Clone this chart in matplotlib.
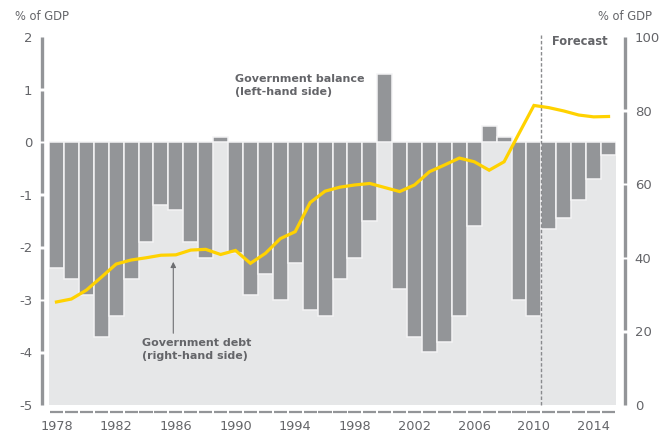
import numpy as np
import matplotlib
matplotlib.use('Agg')
import matplotlib.pyplot as plt
import matplotlib.transforms as mtransforms

# Government balance and debt, % of GDP
years = list(range(1978, 2016))
balance = [-2.4, -2.6, -2.9, -3.7, -3.3, -2.6, -1.9, -1.2, -1.3, -1.9,
           -2.2, 0.1, -2.1, -2.9, -2.5, -3.0, -2.3, -3.2, -3.3, -2.6,
           -2.2, -1.5, 1.3, -2.8, -3.7, -4.0, -3.8, -3.3, -1.6, 0.3,
           0.1, -3.0, -3.3, -1.65, -1.45, -1.1, -0.7, -0.25]
debt = [28.0, 28.8, 31.2, 34.7, 38.3, 39.4, 40.0, 40.7, 40.8, 42.1,
        42.3, 40.9, 42.0, 38.5, 41.2, 45.2, 47.1, 55.0, 58.1, 59.2,
        59.8, 60.2, 59.1, 58.0, 59.8, 63.4, 65.2, 67.1, 66.1, 63.8,
        66.1, 73.8, 81.4, 80.8, 79.9, 78.8, 78.3, 78.4]
year_labels = list(range(1978, 2016, 4))
left_ticks = [2, 1, 0, -1, -2, -3, -4, -5]
right_ticks = [100, 80, 60, 40, 20, 0]
forecast_start = 2010.5

BAR = '#939598'
BG = '#E6E7E8'
TXT = '#646569'
YELLOW = '#FFD200'

plt.rcParams['font.family'] = ['DejaVu Sans']

fig = plt.figure(figsize=(6.7, 4.34), dpi=100)
ax = fig.add_axes([49 / 670, 29 / 434, 567 / 670, 368 / 434])
ax.set_xlim(years[0] - 0.5, years[-1] + 0.5)
ax.set_ylim(-5, 2)

# shaded area below zero
ax.axhspan(-5, 0, color=BG, zorder=0, lw=0)
ax.bar(years, balance, width=1.0, color=BAR, edgecolor='#f4f4f5',
       linewidth=1.1, zorder=2)

for s in ax.spines.values():
    s.set_visible(False)

ax.set_yticks(left_ticks)
ax.set_yticklabels([str(t) for t in left_ticks])
ax.set_xticks(year_labels)
ax.tick_params(axis='y', length=0, pad=12, labelsize=9.5, labelcolor=TXT)
ax.tick_params(axis='x', length=0, pad=11, labelsize=9.3, labelcolor=TXT)

# segmented left axis line
ltr = mtransforms.blended_transform_factory(ax.transAxes, ax.transData)
g = 0.025
for a, b in zip(left_ticks[:-1], left_ticks[1:]):
    top = a - g if a != left_ticks[0] else a
    bot = b + g if b != left_ticks[-1] else b
    ax.plot([-0.0123, -0.0123], [top, bot], color=BAR, lw=2.4,
            transform=ltr, clip_on=False, solid_capstyle='butt')

# dashed baseline, one dash per year
xtr = ax.get_xaxis_transform()
for y in years:
    ax.plot([y - 0.44, y + 0.44], [-0.018, -0.018], color=BAR, lw=1.6,
            transform=xtr, clip_on=False, solid_capstyle='butt')

# forecast marker
ax.plot([forecast_start, forecast_start], [-5, 2.04], color='#8a8b8e',
        lw=1.0, ls=(0, (2.5, 1.5)), zorder=3, clip_on=False)
ax.text(2011.19, 1.92, 'Forecast', fontsize=8.3, fontweight='bold',
        color=TXT, ha='left', va='center')

ax.text(1989.96, 1.07, 'Government balance\n(left-hand side)', fontsize=8,
        fontweight='bold', color=TXT, ha='left', va='center', linespacing=1.35)
ax.text(1983.71, -3.95, 'Government debt\n(right-hand side)', fontsize=8,
        fontweight='bold', color=TXT, ha='left', va='center', linespacing=1.35)

# debt on the right axis
ax2 = ax.twinx()
ax2.set_ylim(0, 100)
for s in ax2.spines.values():
    s.set_visible(False)
ax2.plot(years, debt, color=YELLOW, lw=2.3, zorder=4, solid_joinstyle='miter')
ax2.set_yticks(right_ticks)
ax2.tick_params(axis='y', length=0, pad=13.5, labelsize=9.5, labelcolor=TXT)

rtr = mtransforms.blended_transform_factory(ax2.transAxes, ax2.transData)
g2 = 0.35
for a, b in zip(right_ticks[:-1], right_ticks[1:]):
    top = a - g2 if a != right_ticks[0] else a
    bot = b + g2 if b != right_ticks[-1] else b
    ax2.plot([1.0159, 1.0159], [top, bot], color=BAR, lw=2.4,
             transform=rtr, clip_on=False, solid_capstyle='butt')

ax2.annotate('', xy=(1985.83, 38.9), xytext=(1985.83, 19.5),
             arrowprops=dict(arrowstyle='-|>', color='#6D6E71', lw=0.8,
                             mutation_scale=8, shrinkA=0, shrinkB=0))

fig.text(15 / 670, 1 - 16 / 434, '% of GDP', fontsize=8.3, color=TXT,
         ha='left', va='center')
fig.text(598 / 670, 1 - 16 / 434, '% of GDP', fontsize=8.3, color=TXT,
         ha='left', va='center')

fig.savefig('out.png', dpi=100)
